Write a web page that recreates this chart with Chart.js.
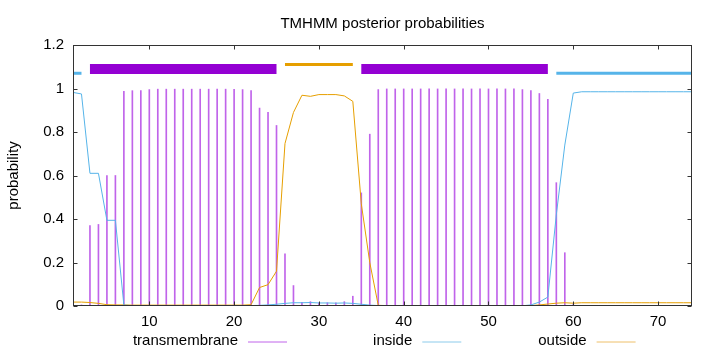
<!DOCTYPE html>
<html>
<head>
<meta charset="utf-8">
<title>TMHMM posterior probabilities</title>
<script src="https://cdn.jsdelivr.net/npm/chart.js@4.4.0/dist/chart.umd.min.js"></script>
<style>
    html, body { margin: 0; padding: 0; background: #fff; }
    #wrap { width: 720px; height: 352px; }
</style>
</head>
<body>
<div id="wrap"><canvas id="chart-tmhmm" width="720" height="352"></canvas></div>
<script>
/* global Chart */

// residue positions
const positions = [
    1, 2, 3, 4, 5, 6, 7, 8, 9, 10, 11, 12, 13, 14, 15, 16, 17, 18, 19, 20,
    21, 22, 23, 24, 25, 26, 27, 28, 29, 30, 31, 32, 33, 34, 35, 36, 37, 38, 39, 40,
    41, 42, 43, 44, 45, 46, 47, 48, 49, 50, 51, 52, 53, 54, 55, 56, 57, 58, 59, 60,
    61, 62, 63, 64, 65, 66, 67, 68, 69, 70, 71, 72, 73, 74,
];

const transmembrane = [
    0.0, 0.005, 0.37, 0.375, 0.6, 0.6, 0.987, 0.99, 0.99, 0.995, 0.997, 0.997, 0.997, 0.997, 0.997, 0.997, 0.997, 0.997, 0.997, 0.996,
    0.995, 0.99, 0.91, 0.89, 0.83, 0.24, 0.094, 0.017, 0.02, 0.015, 0.015, 0.015, 0.02, 0.045, 0.52, 0.79, 0.995, 0.998, 0.998, 0.998,
    0.998, 0.998, 0.998, 0.998, 0.998, 0.998, 0.998, 0.998, 0.998, 0.998, 0.998, 0.998, 0.998, 0.995, 0.99, 0.977, 0.95, 0.567, 0.245, 0.008,
    0, 0, 0, 0, 0, 0, 0, 0, 0, 0, 0, 0, 0, 0,
];

const inside = [
    0.982, 0.975, 0.61, 0.61, 0.394, 0.394, 0.004, 0.002, 0.002, 0.002, 0.002, 0.002, 0.002, 0.002, 0.002, 0.002, 0.002, 0.002, 0.002, 0.002,
    0.002, 0.002, 0.003, 0.005, 0.008, 0.012, 0.015, 0.015, 0.016, 0.014, 0.014, 0.013, 0.014, 0.012, 0.008, 0.004, 0.002, 0.001, 0.001, 0.001,
    0.001, 0.001, 0.001, 0.001, 0.001, 0.001, 0.001, 0.001, 0.001, 0.001, 0.001, 0.001, 0.001, 0.001, 0.005, 0.018, 0.041, 0.42, 0.74, 0.979,
    0.985, 0.985, 0.985, 0.985, 0.985, 0.985, 0.985, 0.985, 0.985, 0.985, 0.985, 0.985, 0.985, 0.985,
];

const outside = [
    0.018, 0.018, 0.016, 0.012, 0.006, 0.005, 0.005, 0.004, 0.004, 0.004, 0.004, 0.004, 0.004, 0.004, 0.004, 0.004, 0.004, 0.004, 0.004, 0.004,
    0.004, 0.006, 0.085, 0.098, 0.16, 0.747, 0.89, 0.969, 0.964, 0.972, 0.972, 0.972, 0.966, 0.941, 0.47, 0.2, 0.003, 0.002, 0.002, 0.002,
    0.002, 0.002, 0.002, 0.002, 0.002, 0.002, 0.002, 0.002, 0.002, 0.002, 0.002, 0.002, 0.002, 0.002, 0.002, 0.005, 0.009, 0.013, 0.015, 0.013,
    0.015, 0.015, 0.015, 0.015, 0.015, 0.015, 0.015, 0.015, 0.015, 0.015, 0.015, 0.015, 0.015, 0.015,
];

// predicted topology drawn above the curves
const regionTypes = ['inside', 'transmembrane', 'outside', 'transmembrane', 'inside'];
const regionStarts = [1, 3, 26, 35, 58];
const regionEnds = [2, 25, 34, 57, 74];
const regionLevels = { inside: 1.07, transmembrane: 1.09, outside: 1.11 };

const xTicks = [10, 20, 30, 40, 50, 60, 70];
const yTicks = [0, 0.2, 0.4, 0.6, 0.8, 1, 1.2];
const legendLabels = ['transmembrane', 'inside', 'outside'];

const FONT = '"Liberation Sans", Arial, sans-serif';

const COLORS = {
    transmembrane: '#9400d3',
    impulse: '#c064ea',
    inside: '#56b4e9',
    outside: '#e69f00',
    legend: ['#c064ea', '#8ccbeb', '#eec06a'],
};

function toPoints(values) {
    return positions.map((p, i) => ({ x: p, y: values[i] }));
}

function regionDatasets() {
    return regionTypes.map((type, i) => ({
        type: 'line',
        data: [
            { x: regionStarts[i], y: regionLevels[type] },
            { x: regionEnds[i], y: regionLevels[type] },
        ],
        borderColor: type === 'transmembrane' ? COLORS.transmembrane : COLORS[type],
        borderWidth: type === 'transmembrane' ? 10 : 3,
        borderCapStyle: 'butt',
        pointRadius: 0,
        order: 3,
    }));
}

// gnuplot style border with inward tics on all sides
const framePlugin = {
    id: 'frame',
    afterDatasetsDraw(chart) {
        const { ctx, chartArea: a, scales } = chart;
        const left = Math.round(a.left) + 0.5;
        const right = Math.round(a.right) - 0.5;
        const top = Math.round(a.top) + 0.5;
        const bottom = Math.round(a.bottom) - 0.5;
        ctx.save();
        ctx.strokeStyle = '#333';
        ctx.lineWidth = 1;
        ctx.beginPath();
        xTicks.forEach(v => {
            const px = Math.round(scales.x.getPixelForValue(v)) + 0.5;
            ctx.moveTo(px, bottom);
            ctx.lineTo(px, bottom - 4);
            ctx.moveTo(px, top);
            ctx.lineTo(px, top + 4);
        });
        yTicks.forEach(v => {
            const py = Math.round(scales.y.getPixelForValue(v)) + 0.5;
            ctx.moveTo(left, py);
            ctx.lineTo(left + 4, py);
            ctx.moveTo(right, py);
            ctx.lineTo(right - 4, py);
        });
        ctx.stroke();
        ctx.strokeRect(left, top, right - left, bottom - top);
        ctx.restore();
    },
};

// key laid out like gnuplot: label first, then line sample
const keyPlugin = {
    id: 'key',
    afterDraw(chart) {
        const ctx = chart.ctx;
        ctx.save();
        ctx.font = `15px ${FONT}`;
        ctx.textAlign = 'right';
        ctx.textBaseline = 'middle';
        ctx.fillStyle = '#000';
        legendLabels.forEach((label, i) => {
            const textRight = 238 + i * 174.3;
            ctx.fillText(label, textRight, 341);
            ctx.strokeStyle = COLORS.legend[i];
            ctx.lineWidth = 1;
            ctx.beginPath();
            ctx.moveTo(textRight + 10, 342);
            ctx.lineTo(textRight + 49, 342);
            ctx.stroke();
        });
        ctx.restore();
    },
};

Chart.defaults.font.family = FONT;
Chart.defaults.font.size = 15;
Chart.defaults.color = '#000';

new Chart(document.getElementById('chart-tmhmm'), {
    type: 'line',
    data: {
        datasets: [
            {
                label: 'inside',
                data: toPoints(inside),
                borderColor: COLORS.inside,
                borderWidth: 1,
                pointRadius: 0,
                tension: 0,
                order: 0,
            },
            {
                label: 'outside',
                data: toPoints(outside),
                borderColor: COLORS.outside,
                borderWidth: 1,
                pointRadius: 0,
                tension: 0,
                order: 1,
            },
            {
                type: 'bar',
                label: 'transmembrane',
                data: toPoints(transmembrane),
                backgroundColor: COLORS.impulse,
                barThickness: 1,
                order: 2,
            },
            ...regionDatasets(),
        ],
    },
    options: {
        responsive: false,
        animation: false,
        layout: {
            padding: { left: 0, right: 28, top: 0, bottom: 0 },
        },
        plugins: {
            legend: { display: false },
            tooltip: { enabled: false },
            title: {
                display: true,
                fullSize: false,
                text: 'TMHMM posterior probabilities',
                font: { size: 15, weight: 'normal' },
                color: '#000',
                padding: { top: 15, bottom: 12 },
            },
        },
        scales: {
            x: {
                type: 'linear',
                min: 1,
                max: 74,
                offset: false,
                grid: { display: false, drawTicks: false, offset: false },
                border: { display: false },
                afterBuildTicks: scale => {
                    scale.ticks = xTicks.map(v => ({ value: v }));
                },
                afterFit: scale => {
                    scale.height = 46;
                },
                ticks: {
                    padding: 7,
                    maxRotation: 0,
                    autoSkip: false,
                },
            },
            y: {
                type: 'linear',
                min: 0,
                max: 1.2,
                grid: { display: false, drawTicks: false },
                border: { display: false },
                afterBuildTicks: scale => {
                    scale.ticks = yTicks.map(v => ({ value: v }));
                },
                afterFit: scale => {
                    scale.width = 73;
                },
                ticks: {
                    padding: 9,
                    callback: value => Number(value.toFixed(1)).toString(),
                },
                title: {
                    display: true,
                    text: 'probability',
                    font: { size: 15 },
                    padding: { top: 5, bottom: 0 },
                },
            },
        },
    },
    plugins: [framePlugin, keyPlugin],
});
</script>
</body>
</html>
